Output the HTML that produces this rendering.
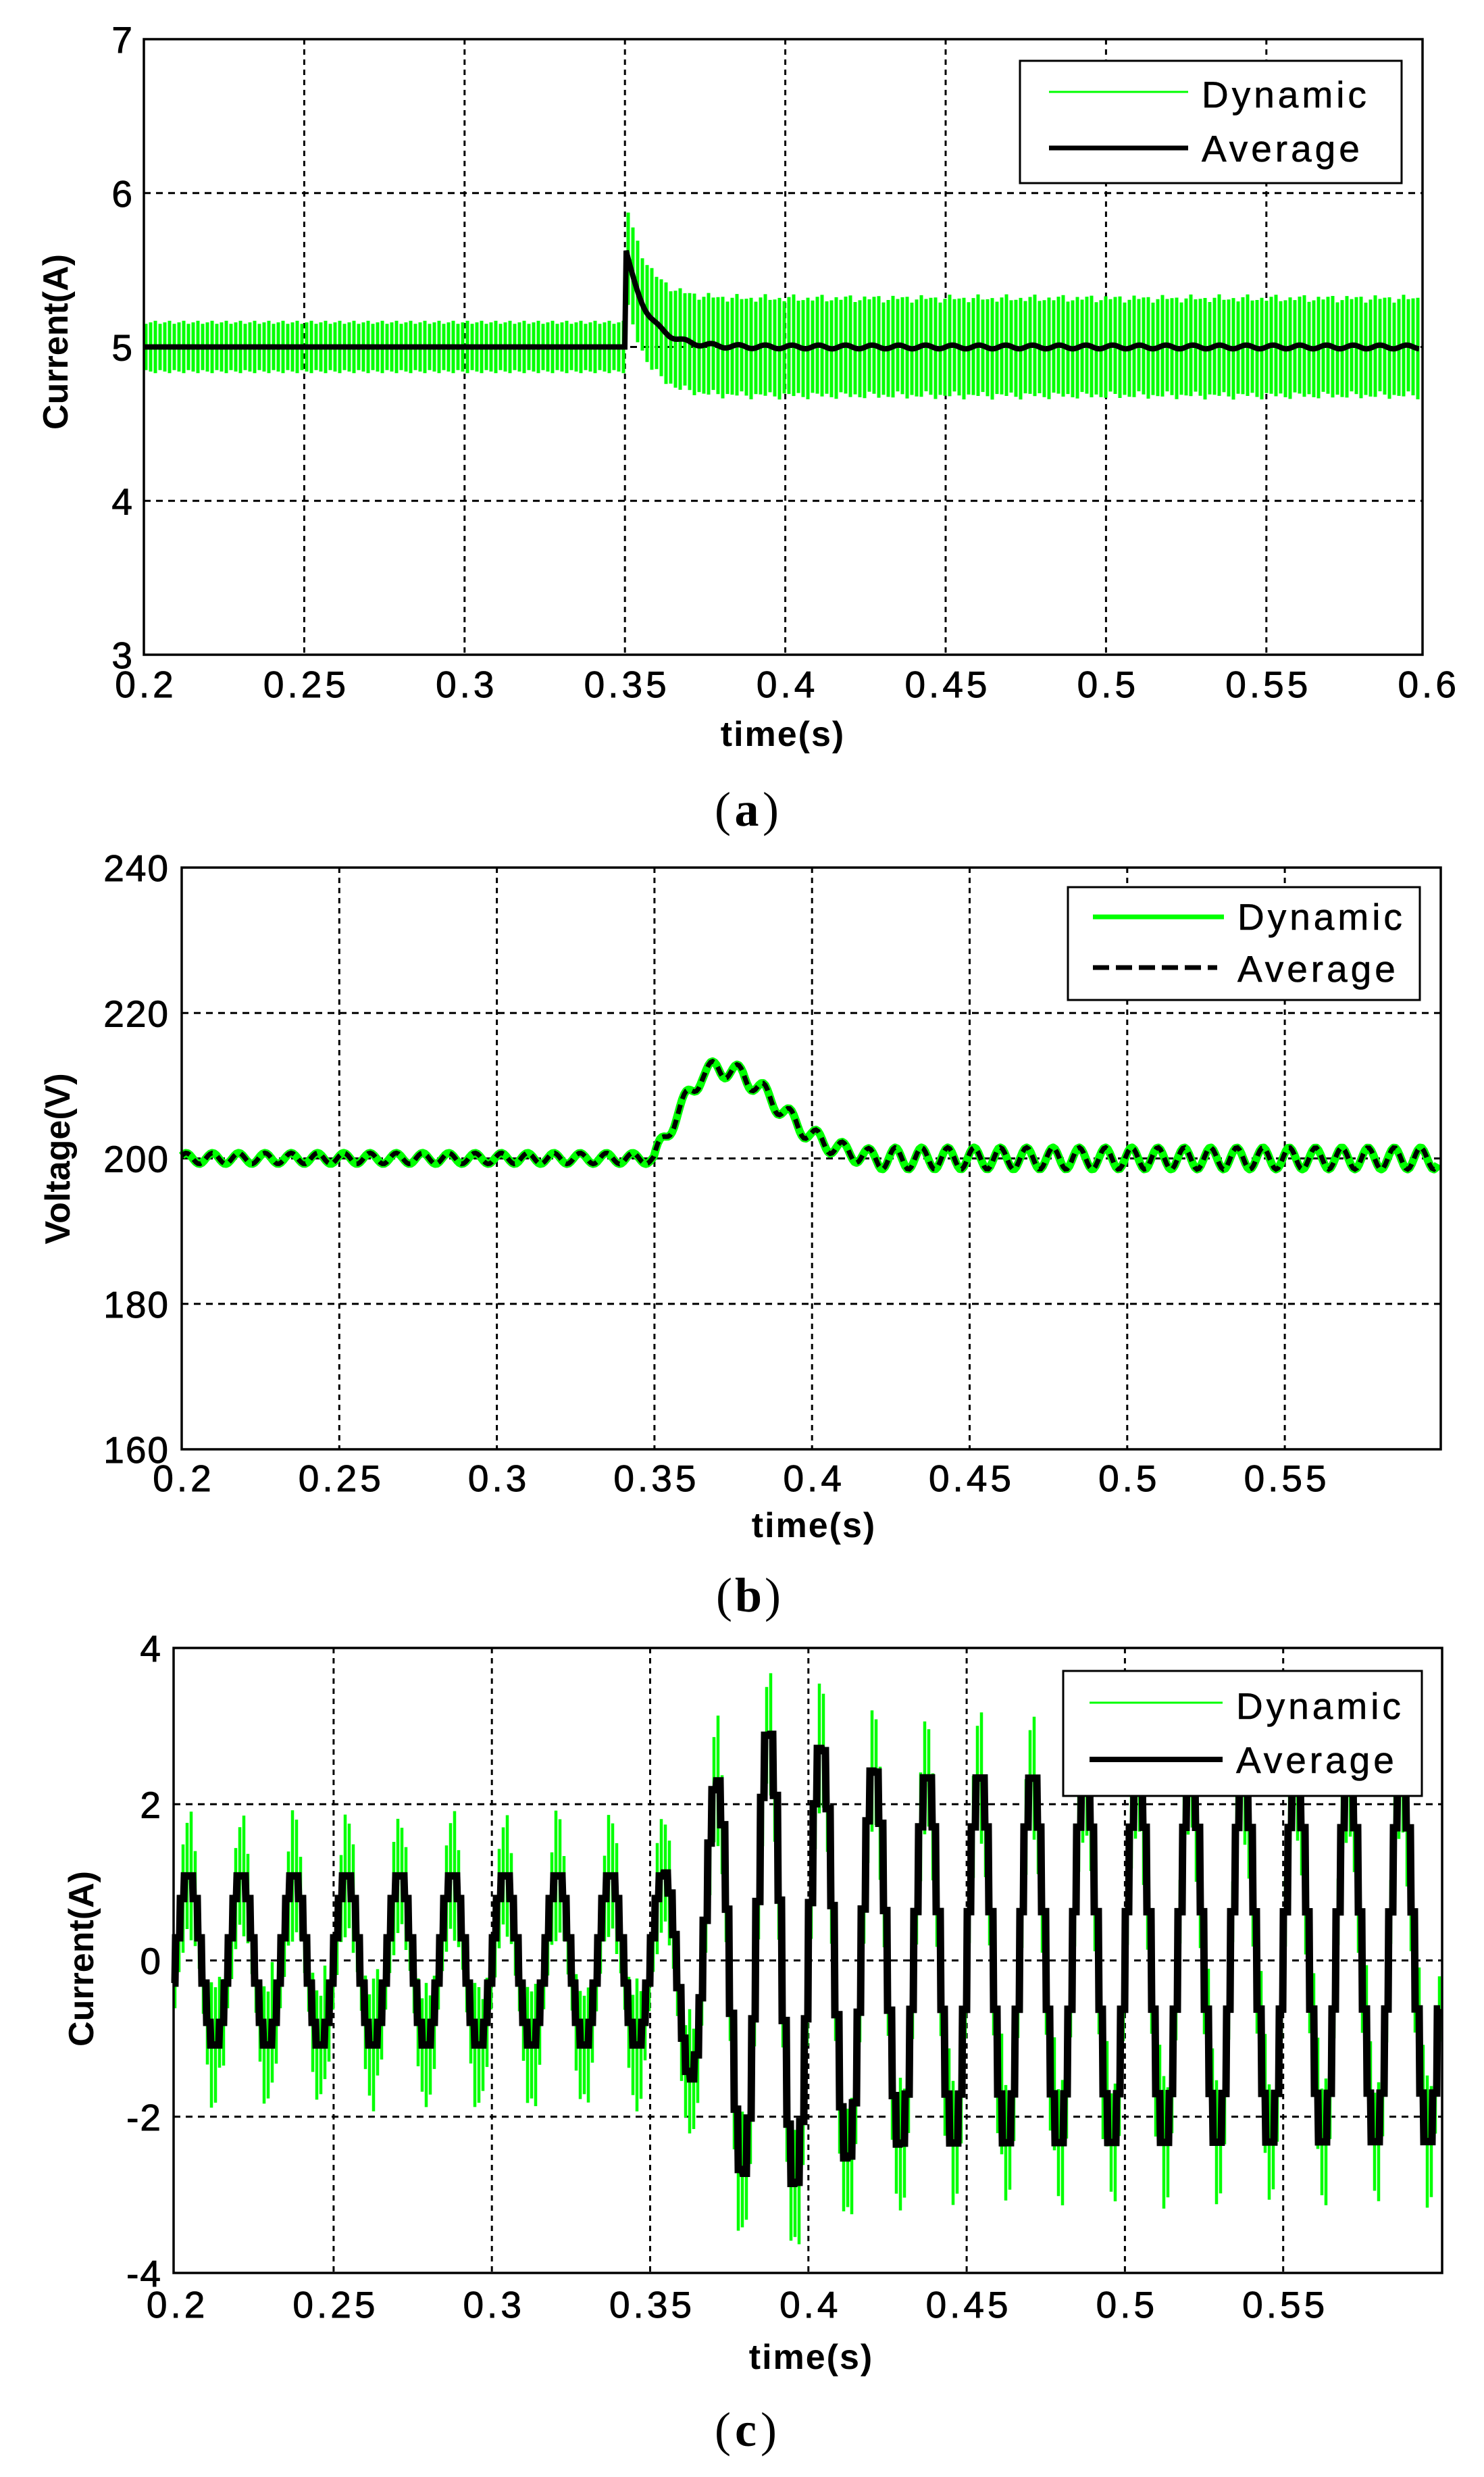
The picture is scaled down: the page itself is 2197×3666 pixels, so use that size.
<!DOCTYPE html>
<html><head><meta charset="utf-8">
<style>
html,body{margin:0;padding:0;background:#fff;}
svg{display:block;}
.tk{font-family:"Liberation Sans",Arial,sans-serif;font-size:55px;letter-spacing:5px;fill:#000;stroke:#000;stroke-width:0.9px;}
.yl{font-family:"Liberation Sans",Arial,sans-serif;font-size:52px;font-weight:bold;fill:#000;}
.tl{font-family:"Liberation Sans",Arial,sans-serif;font-size:52px;font-weight:bold;letter-spacing:2px;fill:#000;}
.lg{font-family:"Liberation Sans",Arial,sans-serif;font-size:55px;letter-spacing:5px;fill:#000;stroke:#000;stroke-width:0.6px;}
.cap{font-family:"Liberation Serif","Times New Roman",serif;font-size:72px;fill:#000;}
</style></head>
<body>
<svg id="s" width="2197" height="3666" viewBox="0 0 2197 3666" xmlns="http://www.w3.org/2000/svg">
<rect width="2197" height="3666" fill="#fff"/>
<text class="yl" transform="translate(100,506) rotate(-90)" text-anchor="middle">Current(A)</text>
<text class="tl" x="1159" y="1104" text-anchor="middle">time(s)</text>
<text class="cap" x="1058" y="1222" textLength="95"><tspan>(</tspan><tspan font-weight="bold">a</tspan><tspan>)</tspan></text>
<text class="lg" x="1779" y="159">Dynamic</text>
<text class="lg" x="1779" y="239">Average</text>

<text class="yl" transform="translate(103,1715) rotate(-90)" text-anchor="middle">Voltage(V)</text>
<text class="tl" x="1205" y="2275" text-anchor="middle">time(s)</text>
<text class="cap" x="1060" y="2385" textLength="96"><tspan>(</tspan><tspan font-weight="bold">b</tspan><tspan>)</tspan></text>
<text class="lg" x="1832" y="1376">Dynamic</text>
<text class="lg" x="1832" y="1453">Average</text>

<text class="yl" transform="translate(138,2899) rotate(-90)" text-anchor="middle">Current(A)</text>
<text class="tl" x="1201" y="3506" text-anchor="middle">time(s)</text>
<text class="cap" x="1058" y="3620" textLength="92"><tspan>(</tspan><tspan font-weight="bold">c</tspan><tspan>)</tspan></text>
<text class="lg" x="1830" y="2544">Dynamic</text>
<text class="lg" x="1830" y="2624">Average</text>
<g id="dyn"></g>
</svg>
<script>
(function(){
var out='';
function P(o){
  o.X=function(t){return o.x0+(t-0.2)/0.05*o.xs;};
  o.Y=function(v){return o.yb-(v-o.vmin)/(o.vmax-o.vmin)*(o.yb-o.yt);};
  return o;
}
function grid(o){
  var s='';
  o.xticks.forEach(function(t,i){var x=o.X(t);
    if(x>o.xl+5&&x<o.xr-3) s+='<line x1="'+x+'" y1="'+o.yt+'" x2="'+x+'" y2="'+o.yb+'" stroke="#000" stroke-width="3" stroke-dasharray="8,7"/>';
    s+='<text class="tk" x="'+(x+3)+'" y="'+o.tickBase+'" text-anchor="middle">'+o.xlab[i]+'</text>';
  });
  o.yticks.forEach(function(v){var y=o.Y(v);
    if(y>o.yt+3&&y<o.yb-3) s+='<line x1="'+o.xl+'" y1="'+y+'" x2="'+o.xr+'" y2="'+y+'" stroke="#000" stroke-width="3" stroke-dasharray="10,8"/>';
    s+='<text class="tk" style="letter-spacing:2px" x="'+o.ylabR+'" y="'+(y+20)+'" text-anchor="end">'+v+'</text>';
  });
  return s;
}
function frame(o){return '<rect x="'+o.xl+'" y="'+o.yt+'" width="'+(o.xr-o.xl)+'" height="'+(o.yb-o.yt)+'" fill="none" stroke="#000" stroke-width="3.5"/>';}

// ---------- Panel A ----------
var A=P({x0:213,xs:237.4,xl:213,xr:2106,yt:58,yb:969,vmin:3,vmax:7,yticks:[7,6,5,4,3],
  xticks:[0.2,0.25,0.3,0.35,0.4,0.45,0.5,0.55,0.6],xlab:['0.2','0.25','0.3','0.35','0.4','0.45','0.5','0.55','0.6'],ylabR:198,tickBase:1032});
out+=grid(A);
function aMean(t){ if(t<0.35) return 5; var d=t-0.35; return 5+0.66*Math.exp(-d/0.0065)+0.012*Math.sin(2*Math.PI*120*d); }
var g='';
for(var x=A.xl+3;x<A.xr-3;x+=7){
  var t=0.2+(x-A.x0)/A.xs*0.05, c=aMean(t), r;
  if(t<0.35) r=0.15+0.01*((x*7)%3); else r=0.3+0.015*((x*7)%3);
  g+='M'+x+' '+A.Y(c+r).toFixed(1)+'V'+A.Y(c-r).toFixed(1);
}
out+='<path d="'+g+'" stroke="#00ff00" stroke-width="5" fill="none"/>';
var b='M'+A.xl+' '+A.Y(5);
for(var x=A.xl;x<=A.xr-4;x+=2){var t=0.2+(x-A.x0)/A.xs*0.05; b+=' L'+x+' '+A.Y(aMean(t)).toFixed(1);}
out+='<path d="'+b+'" stroke="#000" stroke-width="8" fill="none" stroke-linejoin="miter"/>';
out+=frame(A);
out+='<rect x="1510" y="90" width="565" height="181" fill="#fff" stroke="#000" stroke-width="3"/>';
out+='<line x1="1553" y1="136" x2="1759" y2="136" stroke="#00ff00" stroke-width="3"/>';
out+='<line x1="1553" y1="219" x2="1759" y2="219" stroke="#000" stroke-width="7"/>';

// ---------- Panel B ----------
var B=P({x0:269,xs:233.3,xl:269,xr:2133,yt:1284,yb:2145,vmin:160,vmax:240,yticks:[240,220,200,180,160],
  xticks:[0.2,0.25,0.3,0.35,0.4,0.45,0.5,0.55],xlab:['0.2','0.25','0.3','0.35','0.4','0.45','0.5','0.55'],ylabR:251,tickBase:2207});
out+=grid(B);
var env=[[0.35,0],[0.357,6],[0.365,11.5],[0.37,12.5],[0.378,11.5],[0.385,9],[0.392,6],[0.4,3],[0.41,1],[0.42,0],[0.6,0]];
function interp(tb,t){ if(t<=tb[0][0]) return tb[0][1]; for(var i=1;i<tb.length;i++){ if(t<=tb[i][0]){var a=tb[i-1],c=tb[i];return a[1]+(c[1]-a[1])*(t-a[0])/(c[0]-a[0]);}} return tb[tb.length-1][1];}
function bV(t){ var amp=t<0.35?0.75:(t<0.42?1.2:1.5); return 200+interp(env,t)+amp*Math.sin(2*Math.PI*120*(t-0.2)+0.5);}
var p='';
for(var x=B.xl;x<=B.xr-2;x+=3){var t=0.2+(x-B.x0)/B.xs*0.05; p+=(p?' L':'M')+x+' '+B.Y(bV(t)).toFixed(1);}
out+='<path d="'+p+'" stroke="#00ff00" stroke-width="12" fill="none" stroke-linejoin="round"/>';
out+='<path d="'+p+'" stroke="#000" stroke-width="7" fill="none" stroke-dasharray="14,9"/>';
out+=frame(B);
out+='<rect x="1581" y="1313" width="521" height="167" fill="#fff" stroke="#000" stroke-width="3"/>';
out+='<line x1="1618" y1="1357" x2="1812" y2="1357" stroke="#00ff00" stroke-width="7"/>';
out+='<line x1="1618" y1="1432" x2="1802" y2="1432" stroke="#000" stroke-width="7" stroke-dasharray="24,10"/>';

// ---------- Panel C ----------
var C=P({x0:259.6,xs:234.3,xl:257,xr:2135,yt:2439,yb:3364,vmin:-4,vmax:4,yticks:[4,2,0,-2,-4],
  xticks:[0.2,0.25,0.3,0.35,0.4,0.45,0.5,0.55],xlab:['0.2','0.25','0.3','0.35','0.4','0.45','0.5','0.55'],ylabR:240,tickBase:3430});
out+=grid(C);
var cenv=[[0.2,1.12],[0.354,1.12],[0.3625,1.5],[0.371,2.35],[0.379,2.8],[0.3875,3.0],[0.396,2.95],[0.404,2.8],[0.4125,2.6],[0.421,2.5],[0.43,2.42],[0.6,2.4]];
var dt=1/720;
function cV(t){var tk=0.2+Math.floor((t-0.2)/dt)*dt+dt/2; return interp(cenv,tk)*Math.sin(2*Math.PI*60*(tk-0.2));}
var gg='';
for(var x=C.xl+2;x<C.xr-2;x+=6){
  var t=0.2+(x-C.x0)/C.xs*0.05, v=cV(t), s=Math.abs(Math.sin(2*Math.PI*60*(t-0.2)));
  var r=0.3+0.55*s*(0.6+0.4*((x*13)%5)/4);
  gg+='M'+x+' '+C.Y(v+r).toFixed(1)+'V'+C.Y(v-r).toFixed(1);
}
out+='<path d="'+gg+'" stroke="#00ff00" stroke-width="4.5" fill="none"/>';
var bc='';
for(var x=C.xl;x<=C.xr-3;x+=1){var t=0.2+(x-C.x0)/C.xs*0.05; bc+=(bc?' L':'M')+x+' '+C.Y(cV(t)).toFixed(1);}
out+='<path d="'+bc+'" stroke="#000" stroke-width="11" fill="none" stroke-linejoin="miter"/>';
out+=frame(C);
out+='<rect x="1574" y="2473" width="531" height="185" fill="#fff" stroke="#000" stroke-width="3"/>';
out+='<line x1="1613" y1="2520" x2="1810" y2="2520" stroke="#00ff00" stroke-width="3"/>';
out+='<line x1="1613" y1="2604" x2="1810" y2="2604" stroke="#000" stroke-width="8"/>';

document.getElementById('dyn').innerHTML=out;
var svg=document.getElementById('s');
svg.querySelectorAll(':scope > text.lg').forEach(function(tx){svg.appendChild(tx);});
})();
</script>
</body></html>
